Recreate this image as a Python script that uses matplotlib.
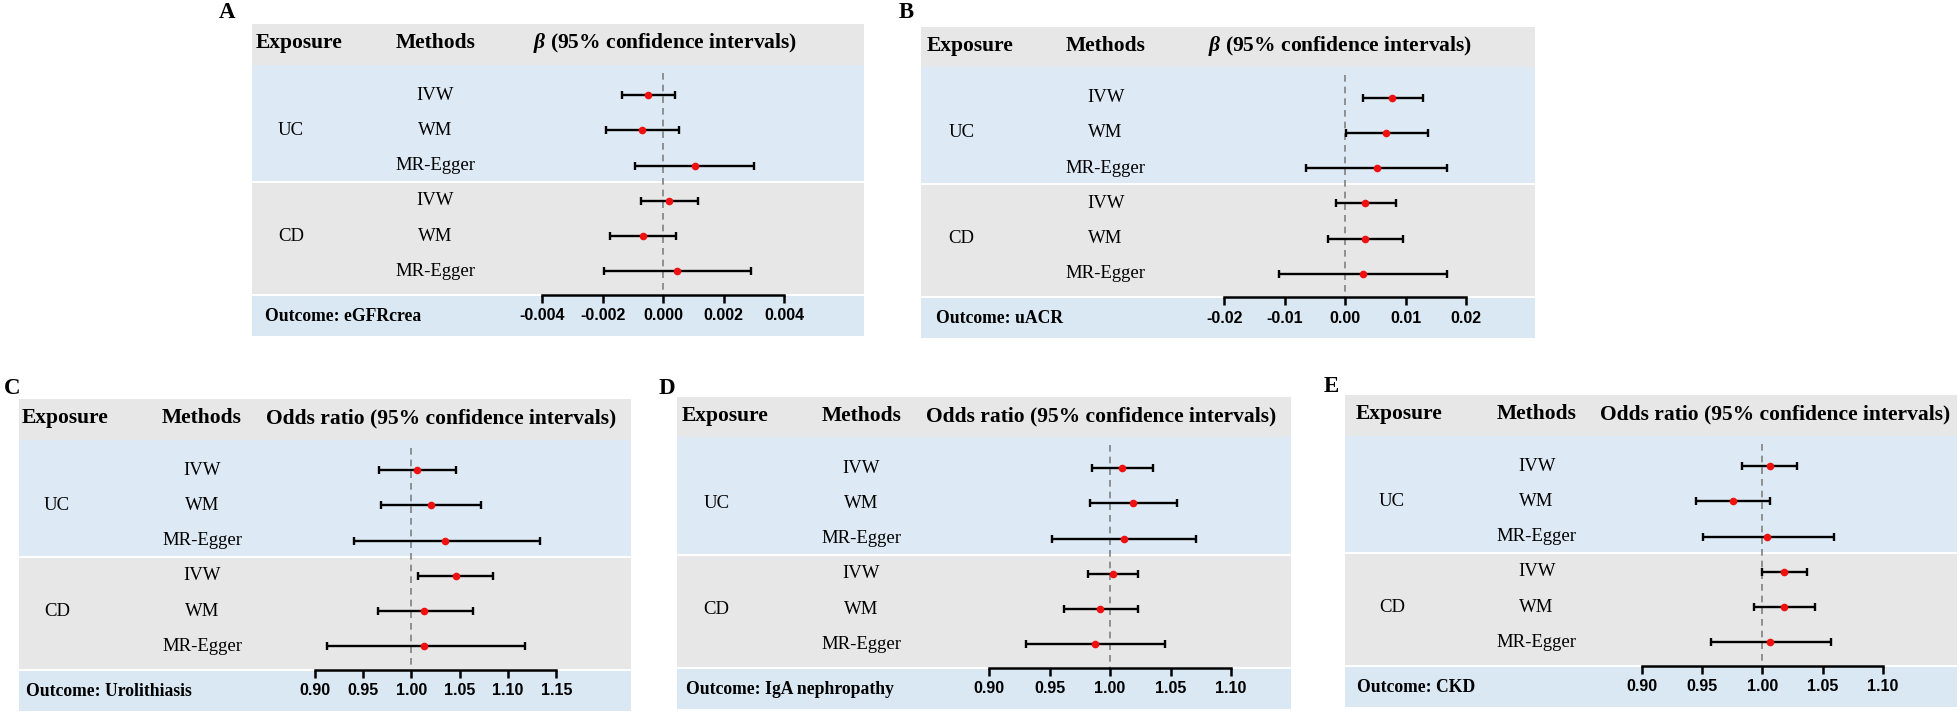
import matplotlib.pyplot as plt

# mathtext for the italic beta in the header
plt.rcParams['mathtext.fontset'] = 'custom'
plt.rcParams['mathtext.rm'] = 'Liberation Serif:bold'
plt.rcParams['mathtext.it'] = 'Liberation Serif:italic:bold'
plt.rcParams['mathtext.bf'] = 'Liberation Serif:bold'

exposures = ['UC', 'CD']
methods = ['IVW', 'WM', 'MR-Egger']

# A - eGFRcrea (beta)
egfr_est = [-0.00049, -0.0007, 0.00105, 0.0002, -0.00068, 0.00046]
egfr_lo = [-0.00135, -0.0019, -0.00092, -0.00075, -0.00177, -0.00197]
egfr_hi = [0.00038, 0.00053, 0.0030, 0.00114, 0.00042, 0.00291]
egfr_ticks = [-0.004, -0.002, 0.0, 0.002, 0.004]
egfr_labels = ['-0.004', '-0.002', '0.000', '0.002', '0.004']

# B - uACR (beta)
uacr_est = [0.0078, 0.0068, 0.0052, 0.0033, 0.0033, 0.0030]
uacr_lo = [0.0029, 0.0001, -0.0064, -0.0016, -0.0029, -0.0109]
uacr_hi = [0.0129, 0.0137, 0.0169, 0.0084, 0.0095, 0.0169]
uacr_ticks = [-0.02, -0.01, 0.0, 0.01, 0.02]
uacr_labels = ['-0.02', '-0.01', '0.00', '0.01', '0.02']

# C - Urolithiasis (OR)
uro_est = [1.0057, 1.020, 1.0348, 1.0457, 1.0131, 1.0135]
uro_lo = [0.9665, 0.9686, 0.9403, 1.007, 0.9652, 0.9129]
uro_hi = [1.0462, 1.0719, 1.1328, 1.0845, 1.0632, 1.1176]
uro_ticks = [0.90, 0.95, 1.00, 1.05, 1.10, 1.15]
uro_labels = ['0.90', '0.95', '1.00', '1.05', '1.10', '1.15']

# D - IgA nephropathy (OR)
iga_est = [1.0101, 1.0192, 1.0111, 1.0024, 0.992, 0.9875]
iga_lo = [0.985, 0.9836, 0.9523, 0.9819, 0.9617, 0.9307]
iga_hi = [1.0355, 1.0554, 1.0714, 1.0233, 1.0233, 1.0456]
iga_ticks = [0.90, 0.95, 1.00, 1.05, 1.10]
iga_labels = ['0.90', '0.95', '1.00', '1.05', '1.10']

# E - CKD (OR)
ckd_est = [1.0059, 0.9756, 1.0038, 1.0182, 1.0175, 1.0066]
ckd_lo = [0.9832, 0.9449, 0.9508, 1.000, 0.993, 0.9571]
ckd_hi = [1.0286, 1.0066, 1.0593, 1.0373, 1.0433, 1.0572]
ckd_ticks = [0.90, 0.95, 1.00, 1.05, 1.10]
ckd_labels = ['0.90', '0.95', '1.00', '1.05', '1.10']

W, H = 1960, 712
fig = plt.figure(figsize=(W / 100, H / 100), dpi=100)

SERIF = 'Liberation Serif'
SANS = 'Liberation Sans'
GRAY = '#e7e7e7'
BLUE = '#ddeaf5'
BLUE2 = '#d9e8f3'

HDR_H, UC_H, CD_H, OUT_H = 40.5, 117, 113, 41


def draw_panel(letter, letter_xy, box, axis_px, cols, header, outcome,
               ref, ticks, tick_labels, est, lo, hi):
    left, top, right = box
    height = HDR_H + UC_H + CD_H + OUT_H
    width = right - left
    ax = fig.add_axes([left / W, 1 - (top + height) / H, width / W, height / H])

    # x scale so that the ticks land where they are in the picture
    px0, px1 = axis_px
    scale = (ticks[-1] - ticks[0]) / (px1 - px0)
    ax.set_xlim(ticks[0] - (px0 - left) * scale, ticks[-1] + (right - px1) * scale)
    ax.set_ylim(height, 0)

    # background bands
    y_uc = HDR_H
    y_cd = HDR_H + UC_H
    y_out = HDR_H + UC_H + CD_H
    ax.axhspan(0, y_uc, color=GRAY, lw=0)
    ax.axhspan(y_uc, y_cd, color=BLUE, lw=0)
    ax.axhspan(y_cd, y_out, color=GRAY, lw=0)
    ax.axhspan(y_out, height, color=BLUE2, lw=0)
    for yb in (y_cd, y_out):
        ax.axhline(yb, color='white', lw=1.4)

    rows = [HDR_H + 30.7 + i * 35.2 for i in range(len(est))]
    tr = ax.get_yaxis_transform()
    ex_x, grp_x, meth_x, hdr_x, out_x = [c / width for c in cols]

    # header row
    ax.text(ex_x, HDR_H / 2 - 1, 'Exposure', transform=tr, ha='left', va='center',
            fontsize=15.5, fontweight='bold', family=SERIF)
    ax.text(meth_x, HDR_H / 2 - 1, 'Methods', transform=tr, ha='center', va='center',
            fontsize=15.5, fontweight='bold', family=SERIF)
    ax.text(hdr_x, HDR_H / 2 - 1, header, transform=tr, ha='left', va='center',
            fontsize=15.5, fontweight='bold', family=SERIF)

    # exposure groups and methods
    for g, name in enumerate(exposures):
        grp_rows = rows[g * len(methods):(g + 1) * len(methods)]
        ax.text(grp_x, sum(grp_rows) / len(grp_rows), name, transform=tr,
                ha='center', va='center', fontsize=13.5, family=SERIF)
        for m, y in zip(methods, grp_rows):
            ax.text(meth_x, y, m, transform=tr, ha='center', va='center',
                    fontsize=13.5, family=SERIF)

    ax.text(out_x, y_out + OUT_H / 2 + 1, 'Outcome: ' + outcome, transform=tr,
            ha='left', va='center', fontsize=12.7, fontweight='bold', family=SERIF)

    # reference line
    ax.vlines(ref, HDR_H + 8, y_out, colors='#808080', linestyles=(0, (4, 3)), lw=1.2)

    # estimates with CI
    xerr = [[e - l for e, l in zip(est, lo)], [h - e for h, e in zip(hi, est)]]
    ax.errorbar(est, rows, xerr=xerr, fmt='none', ecolor='black',
                elinewidth=1.7, capsize=3, capthick=1.7)
    ax.plot(est, rows, 'o', color='#f01010', ms=5.5, mec='none')

    # axis drawn at the top of the outcome band
    for s in ('top', 'left', 'right'):
        ax.spines[s].set_visible(False)
    ax.spines['bottom'].set_position(('data', y_out))
    ax.spines['bottom'].set_bounds(ticks[0], ticks[-1])
    ax.spines['bottom'].set_linewidth(1.8)
    ax.set_yticks([])
    ax.set_xticks(ticks, tick_labels, fontfamily=SANS, fontweight='bold', fontsize=11.5)
    ax.tick_params(axis='x', direction='out', length=6, width=1.8, pad=4)

    fig.text(letter_xy[0] / W, 1 - letter_xy[1] / H, letter, ha='center', va='center',
             fontsize=16.5, fontweight='bold', family=SERIF)


beta_hdr = r'$\beta$ (95% confidence intervals)'
or_hdr = 'Odds ratio (95% confidence intervals)'

draw_panel('A', (227, 12), (251.5, 24, 864), (542.3, 784.1),
           (4.5, 39.5, 184, 281.2, 13.4), beta_hdr, 'eGFRcrea',
           0.0, egfr_ticks, egfr_labels, egfr_est, egfr_lo, egfr_hi)
draw_panel('B', (906, 13), (920.6, 26.5, 1535), (1224.2, 1466.2),
           (6.3, 40.7, 185, 287.8, 15), beta_hdr, 'uACR',
           0.0, uacr_ticks, uacr_labels, uacr_est, uacr_lo, uacr_hi)
draw_panel('C', (12, 388), (18.5, 399, 631.4), (314.8, 556.4),
           (3.4, 38.3, 183.5, 247.5, 7.6), or_hdr, 'Urolithiasis',
           1.0, uro_ticks, uro_labels, uro_est, uro_lo, uro_hi)
draw_panel('D', (667, 388), (677.4, 397, 1290.6), (989.3, 1230.9),
           (4.2, 39.1, 183.9, 248.3, 8.4), or_hdr, 'IgA nephropathy',
           1.0, iga_ticks, iga_labels, iga_est, iga_lo, iga_hi)
draw_panel('E', (1331.6, 386.7), (1345, 395, 1957), (1641.8, 1883),
           (11, 46.8, 191.6, 255.1, 11.8), or_hdr, 'CKD',
           1.0, ckd_ticks, ckd_labels, ckd_est, ckd_lo, ckd_hi)

fig.savefig('out.png', dpi=100, facecolor='white')
